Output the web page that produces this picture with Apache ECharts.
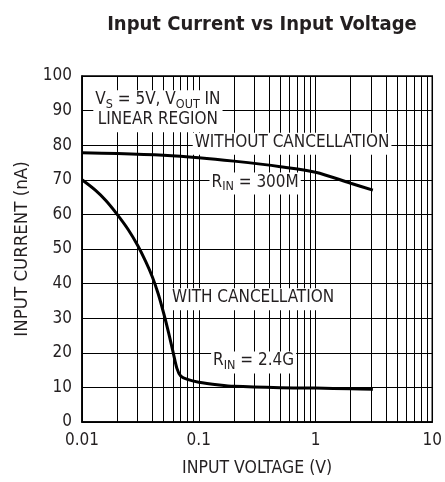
<!DOCTYPE html>
<html>
<head>
<meta charset="utf-8">
<script src="https://cdn.jsdelivr.net/npm/echarts@6/dist/echarts.min.js"></script>
<style>
html,body{margin:0;padding:0;background:#fff;}
#chart{width:445px;height:482px;}
</style>
</head>
<body>
<div id="chart"></div>
<script>
// ---- data ----
const xTickLabels = ['0.01', '0.1', '1', '10'];
const xTickValues = [0.01, 0.1, 1, 10];
const yTickValues = [0, 10, 20, 30, 40, 50, 60, 70, 80, 90, 100];
const minorMultipliers = [2, 3, 4, 5, 6, 7, 8, 9];
const decades = [0.01, 0.1, 1];

const withoutX = [0.01, 0.02, 0.05, 0.1, 0.2, 0.5, 1, 2, 3.1];
const withoutY = [77.8, 77.6, 77.1, 76.4, 75.4, 73.8, 72.2, 69.0, 67.0];

const withX = [0.01, 0.013, 0.016, 0.02, 0.025, 0.03, 0.035, 0.04, 0.045, 0.05, 0.055, 0.06, 0.065, 0.07, 0.08, 0.1, 0.15, 0.2, 0.5, 1, 2, 3.1];
const withY = [70, 67, 64, 60, 55.5, 51, 46.5, 42, 37, 31.5, 26, 20.5, 15.5, 13.3, 12.3, 11.5, 10.7, 10.3, 9.9, 9.8, 9.6, 9.5];

// annotation anchor positions (data coordinates)
const notes = [
  { x: 0.0447, y: 89.8, text: '{n|V}{s|S}{n| = 5V, V}{s|OUT}{n| IN}\n{n|LINEAR REGION}' },
  { x: 0.63, y: 80.4, text: '{n|WITHOUT CANCELLATION}' },
  { x: 0.304, y: 68.9, text: '{n|R}{s|IN}{n| = 300M}' },
  { x: 0.292, y: 35.5, text: '{n|WITH CANCELLATION}' },
  { x: 0.295, y: 17.2, text: '{n|R}{s|IN}{n| = 2.4G}' }
];

const FONT = '"DejaVu Sans Condensed", "Liberation Sans", Arial, sans-serif';
const TEXT = '#231f20';

const minorLines = [];
decades.forEach(d => minorMultipliers.forEach(m => minorLines.push({ xAxis: +(d * m).toPrecision(3) })));

const chart = echarts.init(document.getElementById('chart'), null, { renderer: 'canvas' });
chart.setOption({
  animation: false,
  backgroundColor: '#fff',
  title: {
    text: 'Input Current vs Input Voltage',
    left: 257, top: 10, textAlign: 'center',
    textStyle: { fontFamily: FONT, fontWeight: 'bold', fontSize: 20, color: TEXT }
  },
  grid: { left: 82, right: 12, top: 76, bottom: 54, show: true, borderColor: '#000', borderWidth: 1.5, backgroundColor: 'transparent' },
  xAxis: {
    type: 'log', logBase: 10, min: 0.01, max: 10,
    name: 'INPUT VOLTAGE (V)', nameLocation: 'middle', nameGap: 37,
    nameTextStyle: { fontFamily: FONT, fontSize: 17.5, color: TEXT },
    axisLine: { show: true, lineStyle: { color: '#000', width: 1.5 } },
    axisTick: { show: false },
    axisLabel: {
      fontFamily: FONT, fontSize: 17, color: TEXT, margin: 10,
      formatter: v => { const i = xTickValues.findIndex(t => Math.abs(t - v) / t < 1e-6); return i >= 0 ? xTickLabels[i] : ''; }
    },
    splitLine: { show: true, lineStyle: { color: '#000', width: 1 } }
  },
  yAxis: {
    type: 'value', min: 0, max: 100, interval: 10,
    name: 'INPUT CURRENT (nA)', nameLocation: 'middle', nameGap: 49,
    nameTextStyle: { fontFamily: FONT, fontSize: 18.5, color: TEXT },
    axisLine: { show: true, lineStyle: { color: '#000', width: 1.5 } },
    axisTick: { show: false },
    axisLabel: { fontFamily: FONT, fontSize: 17, color: TEXT, margin: 10 },
    splitLine: { show: true, lineStyle: { color: '#000', width: 1 } }
  },
  series: [
    {
      type: 'line', data: [], silent: true,
      markLine: {
        silent: true, symbol: 'none', animation: false,
        label: { show: false },
        lineStyle: { color: '#000', width: 1, type: 'solid' },
        emphasis: { disabled: true },
        data: minorLines
      }
    },
    {
      type: 'line', z: 5, symbol: 'none', smooth: 0.3,
      lineStyle: { color: '#000', width: 3 },
      data: withoutX.map((x, i) => [x, withoutY[i]])
    },
    {
      type: 'line', z: 5, symbol: 'none', smooth: 0.3,
      lineStyle: { color: '#000', width: 3 },
      data: withX.map((x, i) => [x, withY[i]])
    },
    {
      type: 'scatter', z: 10, symbolSize: 1, silent: true,
      itemStyle: { color: '#fff', opacity: 1 },
      emphasis: { disabled: true },
      data: notes.map(n => ({
        value: [n.x, n.y],
        label: {
          show: true, position: 'inside', formatter: n.text, opacity: 1,
          backgroundColor: '#fff', padding: [1, 2, 1, 2], align: 'center', verticalAlign: 'middle',
          rich: {
            n: { fontFamily: FONT, fontSize: 17, color: TEXT, lineHeight: 20, verticalAlign: 'top' },
            s: { fontFamily: FONT, fontSize: 12.5, color: TEXT, lineHeight: 13, verticalAlign: 'bottom', padding: [6, 0, 0, 0] }
          }
        }
      }))
    }
  ]
});
</script>
</body>
</html>
